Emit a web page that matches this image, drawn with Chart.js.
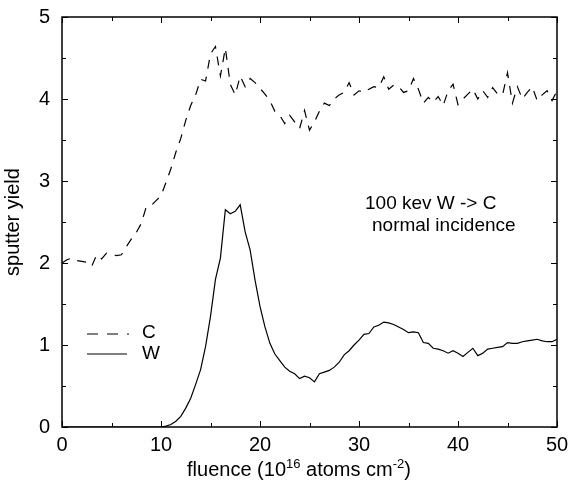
<!DOCTYPE html>
<html>
<head>
<meta charset="utf-8">
<title>sputter yield</title>
<script src="https://cdn.jsdelivr.net/npm/chart.js@4.4.1/dist/chart.umd.min.js"></script>
<style>
  html, body { margin: 0; padding: 0; background: #fff; }
  #wrap { width: 569px; height: 482px; }
</style>
</head>
<body>
<div id="wrap"><canvas id="myChart" width="569" height="482"></canvas></div>
<script>
'use strict';

// fluence, step 0.5 (10^16 atoms cm^-2)
const fluence = [];
for (let i = 0; i <= 100; i++) fluence.push(i / 2);

// C sputter yield (dashed)
const yieldC = [
    2.00, 2.04, 2.06, 2.03, 2.02, 2.01, 1.96, 2.10, 2.05, 2.12,
    2.11, 2.09, 2.10, 2.20, 2.29, 2.37, 2.48, 2.68, 2.70, 2.76,
    2.82, 2.98, 3.15, 3.35, 3.52, 3.74, 3.92, 4.05, 4.24, 4.22,
    4.55, 4.64, 4.28, 4.62, 4.18, 4.05, 4.28, 4.15, 4.25, 4.20,
    4.13, 4.06, 3.98, 3.85, 3.80, 3.70, 3.80, 3.72, 3.64, 3.86,
    3.62, 3.72, 3.85, 3.95, 3.92, 4.00, 4.05, 4.08, 4.20, 4.05,
    4.10, 4.08, 4.12, 4.15, 4.14, 4.27, 4.12, 4.17, 4.15, 4.08,
    4.10, 4.25, 4.12, 3.95, 4.02, 3.96, 4.03, 3.92, 4.10, 4.18,
    3.93, 4.00, 4.06, 4.12, 4.00, 4.10, 4.02, 4.14, 4.06, 4.05,
    4.32, 3.95, 4.15, 4.00, 4.08, 4.15, 3.98, 4.05, 4.10, 3.98,
    4.10
];

// W sputter yield (solid)
const yieldW = [
    0, 0, 0, 0, 0, 0, 0, 0, 0, 0,
    0, 0, 0, 0, 0, 0, 0, 0, 0, 0,
    0, 0.01, 0.03, 0.07, 0.13, 0.23, 0.35, 0.52, 0.70, 0.98,
    1.35, 1.80, 2.06, 2.65, 2.60, 2.63, 2.71, 2.38, 2.16, 1.79,
    1.47, 1.22, 1.02, 0.89, 0.81, 0.73, 0.68, 0.65, 0.59, 0.62,
    0.60, 0.55, 0.65, 0.67, 0.69, 0.73, 0.79, 0.88, 0.93, 1.00,
    1.06, 1.13, 1.14, 1.22, 1.24, 1.28, 1.27, 1.25, 1.22, 1.19,
    1.15, 1.16, 1.15, 1.03, 1.02, 0.96, 0.95, 0.93, 0.90, 0.93,
    0.90, 0.86, 0.91, 0.96, 0.87, 0.90, 0.95, 0.96, 0.97, 0.98,
    1.03, 1.02, 1.02, 1.04, 1.05, 1.06, 1.07, 1.05, 1.04, 1.04,
    1.07
];

const xTicks = [0, 10, 20, 30, 40, 50];
const yTicks = [0, 1, 2, 3, 4, 5];

const FONT = "'Liberation Sans', Arial, sans-serif";

function points(ys) {
    return fluence.map((x, i) => ({ x: x, y: ys[i] }));
}

/**
 * 枠・内向きの目盛り・凡例・注記・x軸タイトル
 */
const decorations = {
    id: 'decorations',
    afterDraw(chart) {
        const ctx = chart.ctx;
        const a = chart.chartArea;
        const xs = chart.scales.x;
        const ys = chart.scales.y;
        ctx.save();
        ctx.strokeStyle = '#000';
        ctx.fillStyle = '#000';

        // frame
        ctx.lineWidth = 1.5;
        ctx.strokeRect(a.left, a.top, a.right - a.left, a.bottom - a.top);

        // ticks pointing inward
        ctx.lineWidth = 1;
        ctx.beginPath();
        for (let v = 0; v <= 50; v += 5) {
            const px = Math.round(xs.getPixelForValue(v)) + 0.5;
            const len = v % 10 === 0 ? 6 : 4;
            ctx.moveTo(px, a.bottom); ctx.lineTo(px, a.bottom - len);
            ctx.moveTo(px, a.top); ctx.lineTo(px, a.top + len);
        }
        for (let v = 0; v <= 5; v += 0.5) {
            const py = Math.round(ys.getPixelForValue(v)) + 0.5;
            const len = v % 1 === 0 ? 6 : 4;
            ctx.moveTo(a.left, py); ctx.lineTo(a.left + len, py);
            ctx.moveTo(a.right, py); ctx.lineTo(a.right - len, py);
        }
        ctx.stroke();

        // legend
        ctx.lineWidth = 1.2;
        ctx.setLineDash([11, 9]);
        ctx.beginPath();
        ctx.moveTo(87, 334); ctx.lineTo(129, 334);
        ctx.stroke();
        ctx.setLineDash([]);
        ctx.beginPath();
        ctx.moveTo(87, 354); ctx.lineTo(127, 354);
        ctx.stroke();
        ctx.font = '19px ' + FONT;
        ctx.textBaseline = 'middle';
        ctx.textAlign = 'left';
        ctx.fillText('C', 142, 333);
        ctx.fillText('W', 142, 354);

        // note
        ctx.fillText('100 kev W -> C', 365, 204);
        ctx.fillText('normal incidence', 372, 226);

        // x title with superscripts
        const parts = [
            ['fluence (10', 20, 0],
            ['16', 13, -8],
            [' atoms cm', 20, 0],
            ['-2', 13, -8],
            [')', 20, 0]
        ];
        let total = 0;
        parts.forEach(p => { ctx.font = p[1] + 'px ' + FONT; total += ctx.measureText(p[0]).width; });
        let x = 299 - total / 2;
        ctx.textBaseline = 'alphabetic';
        parts.forEach(p => {
            ctx.font = p[1] + 'px ' + FONT;
            ctx.fillText(p[0], x, 476 + p[2]);
            x += ctx.measureText(p[0]).width;
        });
        ctx.restore();
    }
};

let ctx = document.getElementById('myChart');
let myChart = new Chart(ctx, {
    type: 'line',
    data: {
        datasets: [
            {
                label: 'C',
                data: points(yieldC),
                borderColor: '#000',
                borderWidth: 1.2,
                borderDash: [9, 8],
                pointRadius: 0,
                tension: 0,
                fill: false
            },
            {
                label: 'W',
                data: points(yieldW),
                borderColor: '#000',
                borderWidth: 1.2,
                pointRadius: 0,
                tension: 0,
                fill: false
            }
        ]
    },
    options: {
        responsive: false,
        animation: false,
        devicePixelRatio: 1,
        layout: { padding: { left: 0, right: 12, top: 17, bottom: 0 } },
        plugins: {
            legend: { display: false },
            tooltip: { enabled: false }
        },
        scales: {
            x: {
                type: 'linear',
                min: 0,
                max: 50,
                afterBuildTicks: s => { s.ticks = xTicks.map(v => ({ value: v })); },
                afterFit: s => { s.height = 55; s.paddingLeft = 0; s.paddingRight = 0; },
                grid: { display: false, drawTicks: false },
                border: { display: false },
                ticks: {
                    padding: 6,
                    color: '#000',
                    font: { family: FONT, size: 20 },
                    maxRotation: 0
                }
            },
            y: {
                type: 'linear',
                min: 0,
                max: 5,
                afterBuildTicks: s => { s.ticks = yTicks.map(v => ({ value: v })); },
                afterFit: s => { s.width = 62; s.paddingTop = 0; s.paddingBottom = 0; },
                grid: { display: false, drawTicks: false },
                border: { display: false },
                ticks: {
                    padding: 12,
                    color: '#000',
                    font: { family: FONT, size: 20 }
                },
                title: {
                    display: true,
                    text: 'sputter yield',
                    color: '#000',
                    font: { family: FONT, size: 20 },
                    padding: { top: 1, bottom: 0 }
                }
            }
        }
    },
    plugins: [decorations]
});
</script>
</body>
</html>
